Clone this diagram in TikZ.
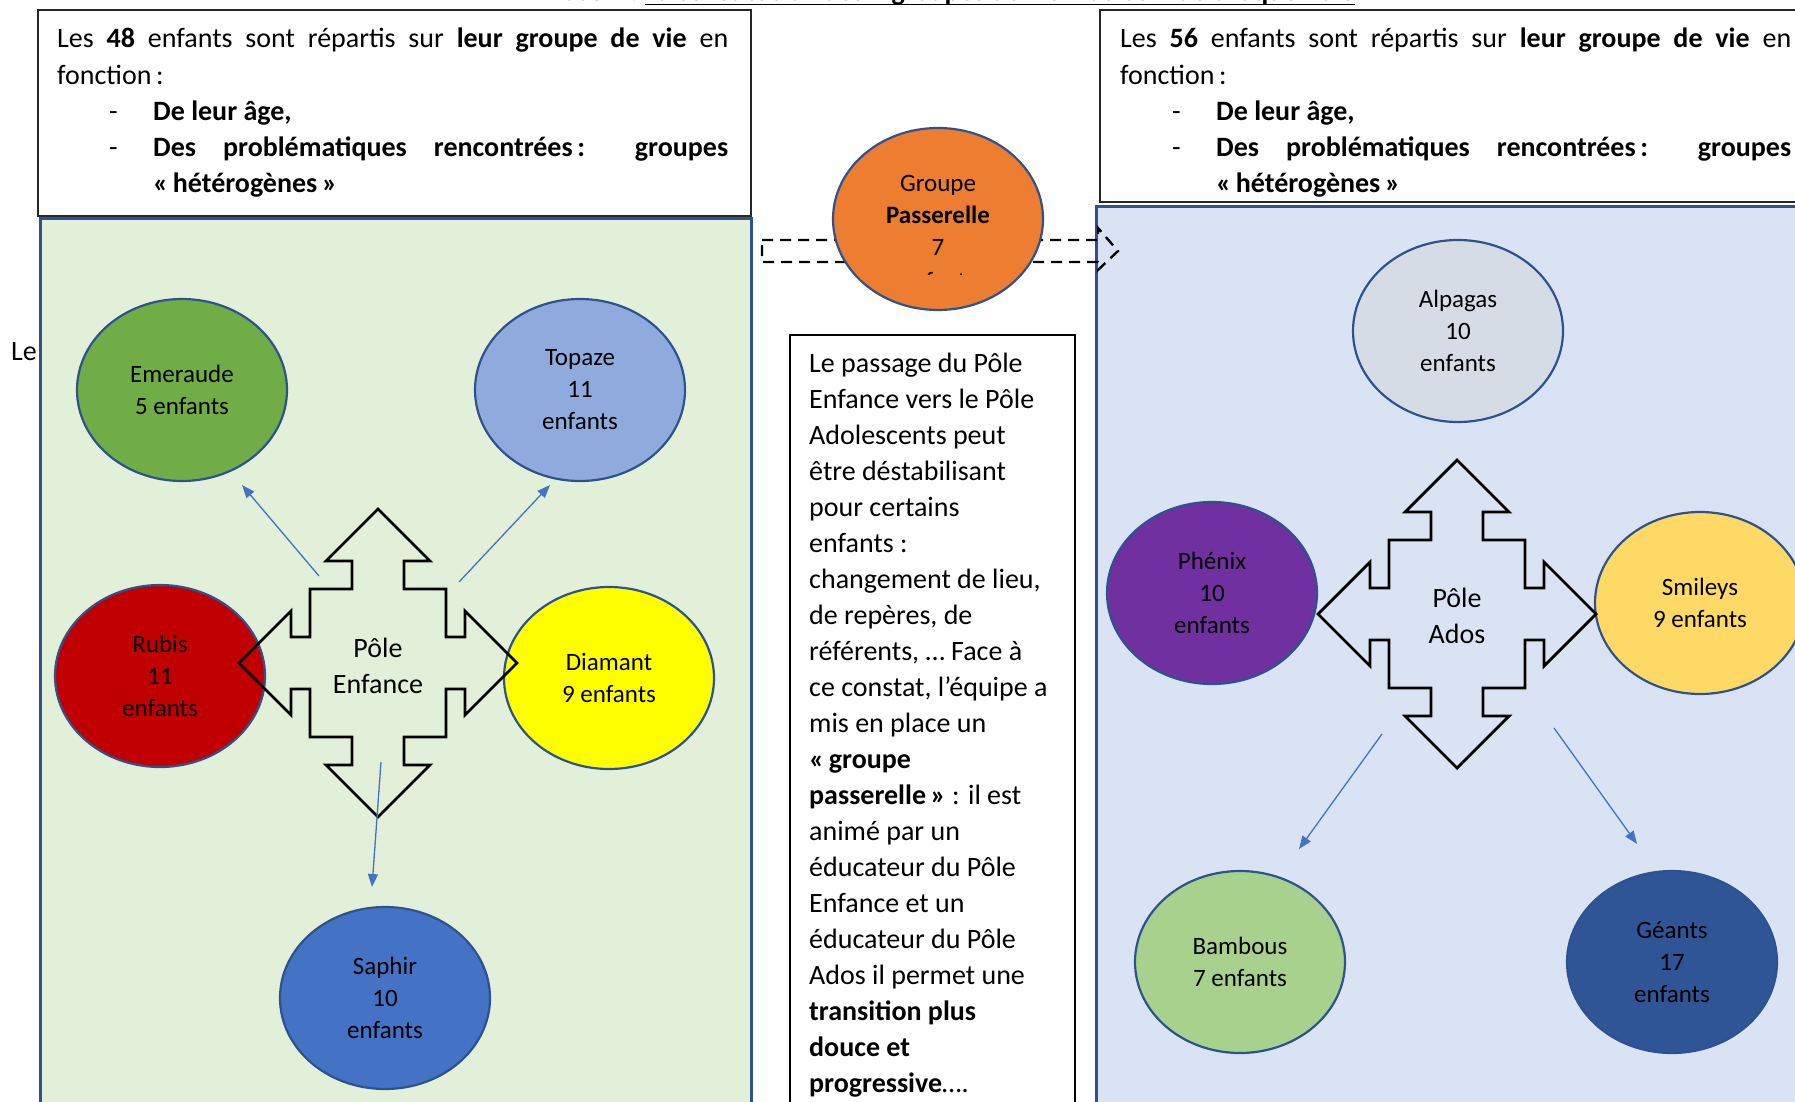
\documentclass[tikz,border=0pt]{standalone}
\usepackage{fontspec}
\setmainfont{Carlito}
\usetikzlibrary{shapes.geometric,arrows.meta}

\definecolor{edgeblue}{HTML}{2F528F}
\definecolor{greenpanel}{HTML}{E2F0D9}
\definecolor{bluepanel}{HTML}{DAE3F3}
\definecolor{linkblue}{HTML}{4472C4}
\definecolor{emeraude}{HTML}{70AD47}
\definecolor{topaze}{HTML}{8FAADC}
\definecolor{rubis}{HTML}{C00000}
\definecolor{diamant}{HTML}{FFFF00}
\definecolor{saphir}{HTML}{4472C4}
\definecolor{passerelle}{HTML}{ED7D31}
\definecolor{alpagas}{HTML}{D6DCE5}
\definecolor{phenix}{HTML}{7030A0}
\definecolor{smileys}{HTML}{FFD966}
\definecolor{bambous}{HTML}{A9D18E}
\definecolor{geants}{HTML}{2F5597}

\begin{document}
\begin{tikzpicture}[x=1pt,y=-1pt,
  group/.style={ellipse, draw=edgeblue, line width=2.2pt, minimum width=210pt,
    minimum height=182pt, inner sep=0pt, align=center,
    font=\fontsize{25}{32}\selectfont},
  txt/.style={inner sep=0pt, font=\fontsize{28}{36}\selectfont},
  ellipsetxt/.style={inner sep=0pt, font=\fontsize{25}{32}\selectfont},
  infobox/.style={draw=black!85, line width=1.8pt, fill=white, inner sep=0pt,
    anchor=north west},
  panel/.style={draw=edgeblue, line width=3pt},
  link/.style={draw=linkblue, line width=1.3pt, -{Triangle[length=13pt,width=10pt]}},
  passarrow/.style={draw=black, line width=2.4pt, dash pattern=on 11pt off 7pt},
  quadarrow/.pic={
    \draw[line width=2.8pt, line join=miter]
      (0,-154) -- (52,-102) -- (26,-102) -- (26,-74) -- (68,-74) -- (68,-26)
      -- (87,-26) -- (87,-52) -- (139,0) -- (87,52) -- (87,26) -- (68,26)
      -- (68,74) -- (26,74) -- (26,102) -- (52,102) -- (0,154) -- (-52,102)
      -- (-26,102) -- (-26,74) -- (-68,74) -- (-68,26) -- (-87,26) -- (-87,52)
      -- (-139,0) -- (-87,-52) -- (-87,-26) -- (-68,-26) -- (-68,-74)
      -- (-26,-74) -- (-26,-102) -- (-52,-102) -- cycle;
  }]

\useasboundingbox (0,0) rectangle (1795,1102);
\fill[white] (0,0) rectangle (1795,1102);

% Title line, mostly above the page
\node[txt, anchor=base east, font=\fontsize{28}{36}\selectfont\bfseries] (titleA) at (638,1) {Phase 2 :};
\node[txt, anchor=base west, font=\fontsize{28}{36}\selectfont\bfseries] (titleB) at (645,1)
  {La constitution des «~groupes de vie~» au sein de chaque Pôle};
\draw[line width=1.8pt] ([yshift=-3.5pt]titleB.base west) -- ([yshift=-3.5pt]titleB.base east);

% Left information box
\node[infobox, minimum width=713pt, minimum height=206pt] (boxL) at (37,9) {};
\node[txt, anchor=base west] (boxLa) at (57,48)
  {\makebox[671pt][s]{Les \textbf{48} enfants sont répartis sur \textbf{leur groupe de vie} en}};
\node[txt, anchor=base west] (boxLb) at (57,85) {fonction\,:};
\node[txt, anchor=base west] (boxLc0) at (109,121) {-};
\node[txt, anchor=base west] (boxLc) at (153,121) {\textbf{De leur âge,}};
\node[txt, anchor=base west] (boxLd0) at (109,157) {-};
\node[txt, anchor=base west] (boxLd) at (153,157)
  {\makebox[575pt][s]{\bfseries Des problématiques rencontrées\,: groupes}};
\node[txt, anchor=base west] (boxLe) at (153,193) {\textbf{«\,hétérogènes\,»}};

% Right information box (its last line is cut by the box)
\node[infobox, minimum width=716pt, minimum height=192pt] (boxR) at (1099,9) {};
\begin{scope}
  \clip (1099,9) rectangle (1815,199);
  \node[txt, anchor=base west] (boxRa) at (1120,48)
    {\makebox[671pt][s]{Les \textbf{56} enfants sont répartis sur \textbf{leur groupe de vie} en}};
  \node[txt, anchor=base west] (boxRb) at (1120,85) {fonction\,:};
  \node[txt, anchor=base west] (boxRc0) at (1172,121) {-};
  \node[txt, anchor=base west] (boxRc) at (1216,121) {\textbf{De leur âge,}};
  \node[txt, anchor=base west] (boxRd0) at (1172,157) {-};
  \node[txt, anchor=base west] (boxRd) at (1216,157)
    {\makebox[575pt][s]{\bfseries Des problématiques rencontrées\,: groupes}};
  \node[txt, anchor=base west] (boxRe) at (1216,193) {\textbf{«\,hétérogènes\,»}};
\end{scope}

% The two poles
\draw[panel, fill=greenpanel] (40,218) rectangle (751,1112);
\draw[panel, fill=bluepanel] (1096,206) rectangle (1805,1112);

% Central explanation box
\node[infobox, draw=black, line width=1.5pt, minimum width=285pt, minimum height=780pt] (note) at (789,334) {};
\node[txt, anchor=base west] (notetxt) at (809,372) {\parbox[t]{300pt}{\raggedright
  Le passage du Pôle\\
  Enfance vers le Pôle\\
  Adolescents peut\\
  être déstabilisant\\
  pour certains\\
  enfants :\\
  changement de lieu,\\
  de repères, de\\
  référents, … Face à\\
  ce constat, l’équipe a\\
  mis en place un\\
  \textbf{«\,groupe}\\
  \textbf{passerelle\,»} : il est\\
  animé par un\\
  éducateur du Pôle\\
  Enfance et un\\
  éducateur du Pôle\\
  Ados il permet une\\
  \textbf{transition plus}\\
  \textbf{douce et}\\
  \textbf{progressive}….}};

% Dashed transfer arrow behind the Passerelle group
\draw[passarrow] (762,240) -- (1098,240) -- (1098,228) -- (1118,251) -- (1098,270)
  -- (1098,262) -- (762,262) -- cycle;

% Passerelle group
\node[group, fill=passerelle] (pass) at (938,219) {};
\node[ellipsetxt, anchor=base] (passtxt) at (938,192)
  {\parbox[t]{200pt}{\centering Groupe\\\textbf{Passerelle}\\7}};
\begin{scope}
  \clip (880,262) rectangle (1000,274);
  \node[ellipsetxt, anchor=base] (passrest) at (938,289) {enfants};
\end{scope}

% Groups of the Pôle Enfance
\node[group, fill=emeraude] (emeraude) at (182,390) {Emeraude\\5 enfants};
\node[group, fill=topaze] (topaze) at (580,390) {Topaze\\11\\enfants};
\node[group, fill=rubis] (rubis) at (160,676) {Rubis\\11\\enfants};
\node[group, fill=diamant] (diamant) at (609,678) {Diamant\\9 enfants};
\node[group, fill=saphir] (saphir) at (385,998) {Saphir\\10\\enfants};

% Groups of the Pôle Ados
\node[group, fill=alpagas] (alpagas) at (1458,331) {Alpagas\\10\\enfants};
\node[group, fill=phenix] (phenix) at (1212,593) {Phénix\\10\\enfants};
\node[group, fill=smileys] (smileys) at (1700,603) {Smileys\\9 enfants};
\node[group, fill=bambous] (bambous) at (1240,962) {Bambous\\7 enfants};
\node[group, fill=geants] (geants) at (1672,962) {Géants\\17\\enfants};

% Four-way arrows
\pic at (378,663) {quadarrow};
\node[txt, align=center] (poleE) at (378,666) {Pôle\\Enfance};
\pic at (1457,614) {quadarrow};
\node[txt, align=center] (poleA) at (1457,616) {Pôle\\Ados};

% Thin links from the poles toward the groups
\coordinate (lkEa) at (319,576);  \coordinate (lkEaT) at (242,485);
\coordinate (lkEb) at (459,582);  \coordinate (lkEbT) at (550,485);
\coordinate (lkEc) at (381,762);  \coordinate (lkEcT) at (372,887);
\coordinate (lkAa) at (1382,734); \coordinate (lkAaT) at (1299,849);
\coordinate (lkAb) at (1554,728); \coordinate (lkAbT) at (1637,844);
\draw[link] (lkEa) -- (lkEaT);
\draw[link] (lkEb) -- (lkEbT);
\draw[link] (lkEc) -- (lkEcT);
\draw[link] (lkAa) -- (lkAaT);
\draw[link] (lkAb) -- (lkAbT);

% Stray word left of the green panel
\node[txt, anchor=base west] (stray) at (11,360) {Le};
\end{tikzpicture}
\end{document}
